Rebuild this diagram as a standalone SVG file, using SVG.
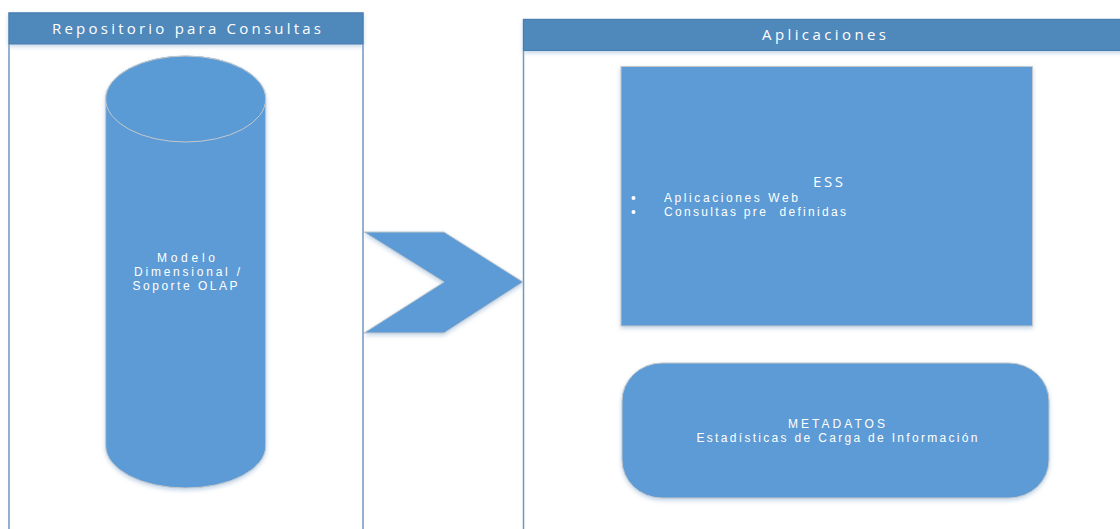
<svg xmlns="http://www.w3.org/2000/svg" width="1120" height="529" viewBox="0 0 1120 529">
  <defs>
    <filter id="soft" x="-10%" y="-10%" width="120%" height="130%">
      <feDropShadow dx="0" dy="2" stdDeviation="2" flood-color="#9bb8d8" flood-opacity="0.6"/>
    </filter>
    <style>
      .frame { fill: #ffffff; stroke: #7096bf; stroke-width: 1.5; }
      .header { fill: #4f88bb; stroke: #4a7db0; stroke-width: 1; }
      .shape { fill: #5b9bd5; stroke: #c4c8cc; stroke-width: 1; }
      .title { font-family: "Open Sans", "Liberation Sans", Arial, sans-serif; font-size: 15px; fill: #ffffff; text-anchor: middle; }
      .label { font-family: "Liberation Sans", Arial, sans-serif; font-size: 12px; fill: #ffffff; text-anchor: middle; }
      .item { font-family: "Liberation Sans", Arial, sans-serif; font-size: 12px; fill: #ffffff; }
    </style>
  </defs>

  <rect width="1120" height="529" fill="#ffffff"/>

  <!-- Left panel: query repository -->
  <g id="panel-repositorio">
    <rect class="frame" x="9" y="13" width="354" height="530"/>
    <rect class="header" x="9" y="13" width="354" height="31" filter="url(#soft)"/>
    <text class="title" x="186.5" y="33.5" textLength="269" lengthAdjust="spacing">Repositorio para Consultas</text>
  </g>

  <!-- Right panel: applications -->
  <g id="panel-aplicaciones">
    <rect class="frame" x="523.5" y="19.5" width="610" height="530"/>
    <rect class="header" x="523.5" y="19.5" width="610" height="31" filter="url(#soft)"/>
    <text class="title" x="824" y="40" textLength="124" lengthAdjust="spacing">Aplicaciones</text>
  </g>

  <!-- Cylinder: dimensional model store -->
  <g id="node-modelo">
    <path class="shape" filter="url(#soft)" d="M105.7,99 A80,43 0 0 1 265.7,99 L265.7,446 A80,42 0 0 1 105.7,446 Z"/>
    <ellipse cx="185.7" cy="99" rx="80" ry="43" fill="#5b9bd5" stroke="#c4c8cc" stroke-width="1"/>
    <text class="label" x="186" y="262" textLength="58" lengthAdjust="spacing">Modelo</text>
    <text class="label" x="187" y="276.2" textLength="106" lengthAdjust="spacing">Dimensional /</text>
    <text class="label" x="185" y="290.4" textLength="105" lengthAdjust="spacing">Soporte OLAP</text>
  </g>

  <!-- Flow between panels -->
  <g id="connectors">
    <polygon class="shape" filter="url(#soft)" points="364,232 444,232 523,282 444,333 364,333 444,282"/>
  </g>

  <!-- ESS box -->
  <g id="node-ess">
    <rect class="shape" filter="url(#soft)" x="621" y="66.5" width="411.5" height="259.5"/>
    <text class="title" x="828" y="187" font-size="13.5" textLength="30" lengthAdjust="spacing">ESS</text>
    <circle cx="633.5" cy="198" r="2" fill="#ffffff"/>
    <circle cx="633.5" cy="212" r="2" fill="#ffffff"/>
    <text class="item" x="664" y="201.5" textLength="134" lengthAdjust="spacing">Aplicaciones Web</text>
    <text class="item" x="664" y="215.7" textLength="182" lengthAdjust="spacing" xml:space="preserve">Consultas pre  definidas</text>
  </g>

  <!-- Metadata box -->
  <g id="node-metadatos">
    <rect class="shape" filter="url(#soft)" x="622" y="363" width="427" height="135" rx="40" ry="38"/>
    <text class="label" x="836.5" y="428" textLength="97" lengthAdjust="spacing">METADATOS</text>
    <text class="label" x="837" y="442.2" textLength="281" lengthAdjust="spacing">Estadísticas de Carga de Información</text>
  </g>
</svg>
